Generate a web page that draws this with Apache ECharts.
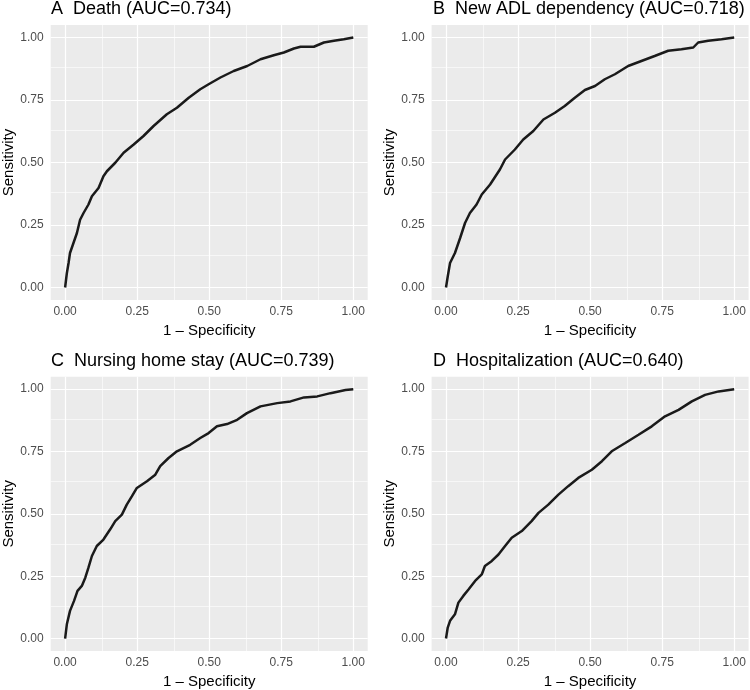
<!DOCTYPE html>
<html>
<head>
<meta charset="utf-8">
<script src="https://cdn.jsdelivr.net/npm/echarts@6/dist/echarts.min.js"></script>
<style>
html,body{margin:0;padding:0;background:#fff;}
#chart{width:750px;height:690px;}
</style>
</head>
<body>
<div id="chart"></div>
<script>
// ---- data ----
const panelTitles = [
  "A  Death (AUC=0.734)",
  "B  New ADL dependency (AUC=0.718)",
  "C  Nursing home stay (AUC=0.739)",
  "D  Hospitalization (AUC=0.640)"
];
const tickValues = [0, 0.25, 0.5, 0.75, 1];
const minorValues = [0.125, 0.375, 0.625, 0.875];
const xAxisTitle = "1 \u2013 Specificity";
const yAxisTitle = "Sensitivity";

const deathFpr = [0,0.006,0.012,0.017,0.029,0.041,0.052,0.064,0.081,0.093,0.116,0.133,0.145,0.174,0.203,0.238,0.272,0.307,0.353,0.388,0.429,0.469,0.498,0.539,0.585,0.632,0.678,0.724,0.759,0.794,0.817,0.863,0.898,0.933,0.967,1];
const deathTpr = [0,0.057,0.098,0.138,0.178,0.218,0.271,0.298,0.332,0.365,0.398,0.445,0.465,0.499,0.539,0.572,0.606,0.646,0.693,0.719,0.759,0.793,0.813,0.840,0.866,0.886,0.913,0.929,0.940,0.956,0.963,0.963,0.980,0.987,0.993,1];

const adlFpr = [0,0.006,0.014,0.031,0.049,0.066,0.083,0.106,0.124,0.153,0.187,0.205,0.239,0.268,0.303,0.338,0.378,0.412,0.447,0.482,0.517,0.551,0.586,0.632,0.678,0.724,0.771,0.817,0.858,0.875,0.910,0.956,1];
const adlTpr = [0,0.044,0.098,0.138,0.198,0.258,0.298,0.332,0.372,0.412,0.472,0.512,0.552,0.592,0.626,0.672,0.699,0.726,0.759,0.790,0.806,0.833,0.853,0.886,0.906,0.926,0.947,0.953,0.960,0.980,0.987,0.993,1];

const nursingFpr = [0,0.006,0.017,0.031,0.043,0.058,0.070,0.081,0.093,0.110,0.133,0.156,0.174,0.197,0.214,0.232,0.249,0.284,0.313,0.330,0.359,0.388,0.434,0.469,0.498,0.527,0.562,0.597,0.631,0.678,0.736,0.782,0.829,0.875,0.921,0.973,1];
const nursingTpr = [0,0.057,0.111,0.151,0.191,0.211,0.244,0.284,0.331,0.371,0.397,0.437,0.471,0.497,0.537,0.571,0.604,0.631,0.657,0.691,0.724,0.751,0.777,0.804,0.824,0.851,0.860,0.877,0.904,0.931,0.944,0.951,0.967,0.971,0.984,0.997,1];

const hospFpr = [0,0.006,0.014,0.031,0.043,0.060,0.078,0.101,0.124,0.135,0.159,0.182,0.205,0.228,0.263,0.297,0.321,0.355,0.390,0.424,0.459,0.506,0.541,0.575,0.622,0.668,0.714,0.760,0.807,0.853,0.899,0.946,1];
const hospTpr = [0,0.044,0.071,0.097,0.144,0.171,0.197,0.231,0.257,0.291,0.311,0.337,0.371,0.404,0.431,0.471,0.504,0.537,0.577,0.611,0.644,0.677,0.711,0.751,0.784,0.817,0.851,0.891,0.917,0.951,0.977,0.991,1];

const fprSets = [deathFpr, adlFpr, nursingFpr, hospFpr];
const tprSets = [deathTpr, adlTpr, nursingTpr, hospTpr];

// ---- layout ----
const FONT = "'Liberation Sans', Arial, Helvetica, sans-serif";
const gridBoxes = [
  {left: 50.7, top: 25, width: 317, height: 275},
  {left: 431.6, top: 25, width: 317, height: 275},
  {left: 50.7, top: 376.7, width: 317, height: 275},
  {left: 431.6, top: 376.7, width: 317, height: 275}
];
const titlePos = [
  {left: 51, top: 0},
  {left: 433, top: 0},
  {left: 51, top: 352},
  {left: 433, top: 352}
];

const fmt = v => v.toFixed(2);

const option = {
  animation: false,
  backgroundColor: '#ffffff',
  title: panelTitles.map((t, i) => ({
    text: t, left: titlePos[i].left, top: titlePos[i].top, padding: 0,
    textStyle: {fontFamily: FONT, fontSize: 18, fontWeight: 'normal', color: '#000'}
  })),
  grid: gridBoxes.map(g => Object.assign({
    show: true, backgroundColor: '#EBEBEB', borderWidth: 0, containLabel: false
  }, g)),
  xAxis: gridBoxes.map((g, i) => ({
    type: 'value', gridIndex: i, min: -0.05, max: 1.05,
    name: xAxisTitle, nameLocation: 'middle', nameGap: 23,
    nameTextStyle: {fontFamily: FONT, fontSize: 15, color: '#000'},
    axisLine: {show: false},
    axisTick: {show: true, length: 4, customValues: tickValues, lineStyle: {color: '#333', width: 1}},
    axisLabel: {show: true, customValues: tickValues, margin: 6, formatter: fmt,
      fontFamily: FONT, fontSize: 12, color: '#4D4D4D'},
    splitLine: {show: false}
  })),
  yAxis: gridBoxes.map((g, i) => ({
    type: 'value', gridIndex: i, min: -0.05, max: 1.05,
    name: yAxisTitle, nameLocation: 'middle', nameGap: 34, nameRotate: 90,
    nameTextStyle: {fontFamily: FONT, fontSize: 15, color: '#000'},
    axisLine: {show: false},
    axisTick: {show: true, length: 4, customValues: tickValues, lineStyle: {color: '#333', width: 1}},
    axisLabel: {show: true, customValues: tickValues, margin: 7, formatter: fmt,
      fontFamily: FONT, fontSize: 12, color: '#4D4D4D'},
    splitLine: {show: false}
  })),
  series: []
};

for (let i = 0; i < 4; i++) {
  const majorLines = tickValues.map(v => ({xAxis: v})).concat(tickValues.map(v => ({yAxis: v})));
  const minorLines = minorValues.map(v => ({xAxis: v})).concat(minorValues.map(v => ({yAxis: v})));
  option.series.push({
    type: 'line', xAxisIndex: i, yAxisIndex: i, z: 1, silent: true,
    data: [[0, 0]], symbol: 'none', lineStyle: {width: 0, opacity: 0},
    markLine: {silent: true, symbol: 'none', label: {show: false}, animation: false,
      lineStyle: {color: '#FFFFFF', type: 'solid', width: 0.6}, data: minorLines}
  });
  option.series.push({
    type: 'line', xAxisIndex: i, yAxisIndex: i, z: 2, silent: true,
    data: [[0, 0]], symbol: 'none', lineStyle: {width: 0, opacity: 0},
    markLine: {silent: true, symbol: 'none', label: {show: false}, animation: false,
      lineStyle: {color: '#FFFFFF', type: 'solid', width: 1.2}, data: majorLines}
  });
  option.series.push({
    type: 'line', xAxisIndex: i, yAxisIndex: i, z: 5,
    data: fprSets[i].map((x, k) => [x, tprSets[i][k]]),
    symbol: 'none', smooth: false,
    lineStyle: {color: '#1A1A1A', width: 2.5}
  });
}

const chart = echarts.init(document.getElementById('chart'), null, {renderer: 'canvas'});
chart.setOption(option);
</script>
</body>
</html>
